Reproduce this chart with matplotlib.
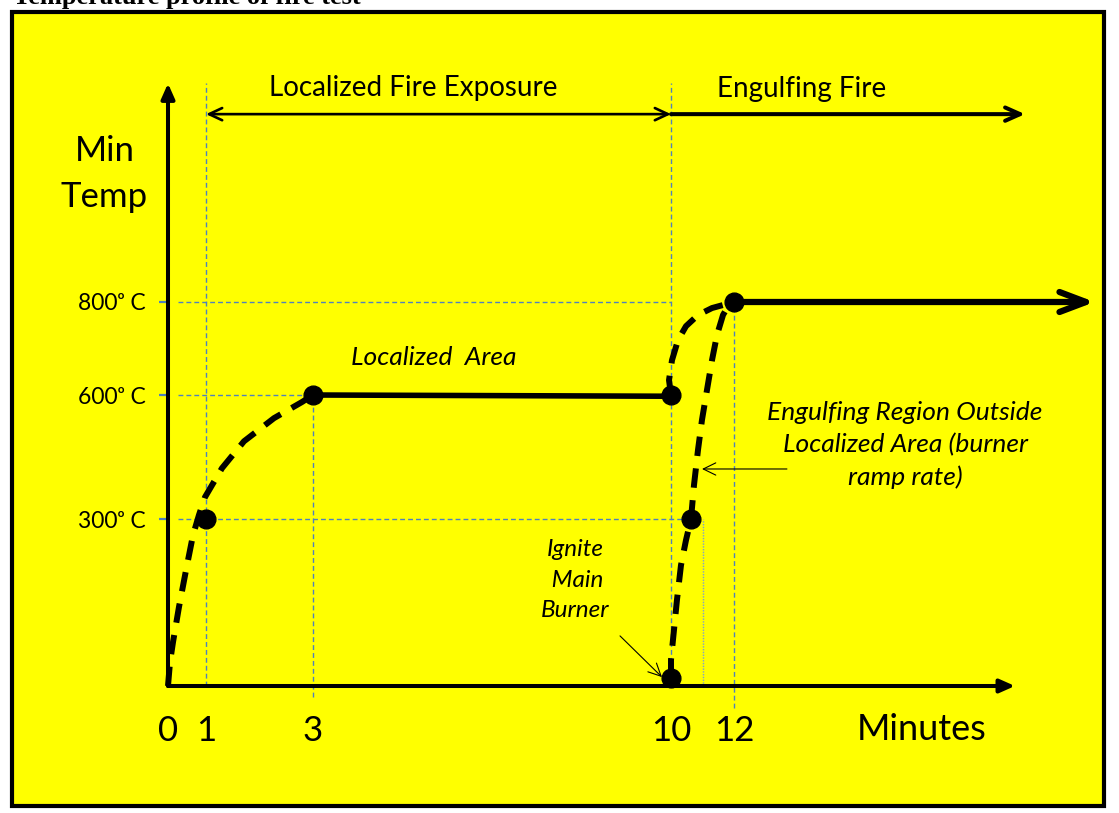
import numpy as np
import matplotlib
matplotlib.use("Agg")
import matplotlib.pyplot as plt
from matplotlib.patches import Rectangle

plt.rcParams['font.family'] = ['Lato', 'DejaVu Sans']
plt.rcParams['lines.scale_dashes'] = False

# ---------------- data ----------------
title = "Temperature profile of fire test"
x_ticks = [0, 1, 3, 10, 12]
x_tick_labels = ["0", "1", "3", "10", "12"]
y_ticks = [300, 600, 800]
y_tick_labels = ["300\u1d52 C", "600\u1d52 C", "800\u1d52 C"]

# localized ramp (dashed), minutes / deg C
ramp_t = [0, 0.053, 0.132, 0.289, 0.474, 0.658, 0.816, 0.974, 1.299, 1.710, 2.271, 2.794, 3.0]
ramp_T = [0, 43, 79, 142, 208, 271, 310, 353, 423, 488, 544, 583, 600]
# localized hold (solid)
hold_t = [3, 10]
hold_T = [600, 597]
# localized area rise to 800 (dashed)
rise_t = [10, 9.961, 10.032, 10.222, 10.476, 10.857, 11.302, 12]
rise_T = [600, 632, 675, 718, 748, 772, 787, 800]
# main burner ramp (dashed)
burner_t = [10, 10, 10.095, 10.190, 10.317, 10.476, 10.635, 10.730, 10.857,
            10.984, 11.143, 11.302, 11.460, 11.651, 11.873, 12]
burner_T = [15, 47, 101, 155, 217, 262, 300, 382, 467, 540, 611, 675, 729,
            772, 798, 800]
# engulfing hold (solid arrow)
engulf_t = [12, 23.45]
engulf_T = [800, 800]
# key points
pts_t = [1, 3, 10, 12, 10, 10.65]
pts_T = [300, 600, 600, 800, 15, 300]
# phases
localized_phase = [1, 10]
engulfing_phase = [10, 21.24]

# ---------------- schematic (non-linear) scales ----------------
X_BRK_MIN = [-10, 0, 1, 3, 10, 12, 40]
X_BRK_U = [-212, 168, 206, 313, 671, 734, 1616]
Y_BRK_T = [-500, 0, 300, 600, 800, 2000]
Y_BRK_U = [-151.3, 127, 294, 418, 511, 1069]

def xf(v): return np.interp(v, X_BRK_MIN, X_BRK_U)
def xi(u): return np.interp(u, X_BRK_U, X_BRK_MIN)
def yf(v): return np.interp(v, Y_BRK_T, Y_BRK_U)
def yi(u): return np.interp(u, Y_BRK_U, Y_BRK_T)

W, H = 1119, 813
fig = plt.figure(figsize=(W / 100, H / 100), dpi=100, facecolor='white')
ax = fig.add_axes([0, 0, 1, 1])
ax.set_xscale('function', functions=(xf, xi))
ax.set_yscale('function', functions=(yf, yi))
ax.set_xlim(float(xi(0)), float(xi(W)))
ax.set_ylim(float(yi(0)), float(yi(H)))
ax.patch.set_visible(False)

# yellow frame
ax.add_patch(Rectangle((12 / W, 1 - 806 / H), (1104 - 12) / W, (806 - 12) / H,
                       transform=ax.transAxes, facecolor='#FFFF00',
                       edgecolor='black', lw=3.0, zorder=0, clip_on=False))

fig.text(13 / W, 1 - 4 / H, title, fontsize=19, fontweight='bold',
         family='Liberation Serif', va='baseline', ha='left')

BLUE = '#4F81BD'
grid_kw = dict(color=BLUE, lw=1.0, dashes=(3.5, 2.2), zorder=2)
# horizontal guides
ax.plot([0.25, 10], [800, 800], **grid_kw)
ax.plot([0.25, 3], [600, 600], **grid_kw)
ax.plot([0.25, 10.65], [300, 300], **grid_kw)
# vertical guides
ax.plot([1, 1], [0, 1270], **grid_kw)
ax.plot([3, 3], [-20, 600], **grid_kw)
ax.plot([10, 10], [0, 1270], **grid_kw)
ax.plot([12, 12], [-40, 800], **grid_kw)
ax.plot([11, 11], [0, 300], color='#7FA0D0', lw=1.0, dashes=(1, 1), zorder=2)

# axes arrows
ax.annotate('', xy=(0, 1270), xytext=(0, 0),
            arrowprops=dict(arrowstyle='-|>,head_length=0.45,head_width=0.2',
                            mutation_scale=20, lw=2.9, color='black',
                            shrinkA=0, shrinkB=0), zorder=3)
ax.annotate('', xy=(20.92, 0), xytext=(0, 0),
            arrowprops=dict(arrowstyle='-|>,head_length=0.45,head_width=0.2',
                            mutation_scale=20, lw=2.9, color='black',
                            shrinkA=0, shrinkB=0), zorder=3)

# ticks & labels
for s in ax.spines.values():
    s.set_visible(False)
ax.spines['left'].set_position(('data', 0))
ax.spines['bottom'].set_position(('data', 0))
ax.set_xticks(x_ticks, x_tick_labels)
ax.set_yticks(y_ticks, y_tick_labels)
ax.minorticks_off()
ax.tick_params(axis='x', length=0, pad=21, labelsize=25)
ax.tick_params(axis='y', direction='out', length=6.5, width=1.6, color=BLUE,
               pad=9.5, labelsize=16.5)

# curves
dash_kw = dict(color='black', lw=4.3, dashes=(14, 9), solid_capstyle='butt',
               dash_capstyle='butt', zorder=4)
ax.plot(ramp_t, ramp_T, **dash_kw)
ax.plot(rise_t, rise_T, **dash_kw)
ax.plot(burner_t, burner_T, **dash_kw)
ax.plot(hold_t, hold_T, color='black', lw=4.0, zorder=4)
ax.annotate('', xy=(engulf_t[1], engulf_T[1]), xytext=(engulf_t[0], engulf_T[0]),
            arrowprops=dict(arrowstyle='->,head_length=0.95,head_width=0.36',
                            mutation_scale=20, lw=4.5, color='black',
                            shrinkA=0, shrinkB=0, capstyle='round',
                            joinstyle='round'), zorder=4)
ax.plot(pts_t, pts_T, 'o', color='black', ms=13.5, zorder=5)

# phase arrows
ax.annotate('', xy=(localized_phase[1], 1204), xytext=(localized_phase[0], 1204),
            arrowprops=dict(arrowstyle='<->,head_length=0.47,head_width=0.22',
                            mutation_scale=20, lw=1.9, color='black',
                            shrinkA=0, shrinkB=0), zorder=3)
ax.annotate('', xy=(engulfing_phase[1], 1204), xytext=(engulfing_phase[0], 1204),
            arrowprops=dict(arrowstyle='->,head_length=0.54,head_width=0.24',
                            mutation_scale=20, lw=2.9, color='black',
                            shrinkA=0, shrinkB=0), zorder=3)
ax.text(4.955, 1243, "Localized Fire Exposure", fontsize=20, ha='center',
        va='baseline')
ax.text(14.16, 1241, "Engulfing Fire", fontsize=20, ha='center', va='baseline')

# axis titles
ax.text(-1.66, 1103, "Min", fontsize=25, ha='center', va='baseline')
ax.text(-1.69, 1004, "Temp", fontsize=25, ha='center', va='baseline')
ax.text(17.97, -97, "Minutes", fontsize=26, ha='center', va='baseline')

# annotations
ax.text(5.37, 680, "Localized  Area", fontsize=19, style='italic',
        ha='center', va='center')
ax.text(17.43, 479, "Engulfing Region Outside\nLocalized Area (burner\nramp rate)",
        fontsize=19, style='italic', ha='center', va='center',
        multialignment='center', linespacing=1.45)
ax.text(8.12, 190, "Ignite\n Main\nBurner", fontsize=17.5, style='italic',
        ha='center', va='center', multialignment='center', linespacing=1.55)
ax.annotate('', xy=(10.984, 421), xytext=(13.68, 421),
            arrowprops=dict(arrowstyle='->,head_length=0.45,head_width=0.22',
                            mutation_scale=20, lw=0.8, color='black',
                            shrinkA=0, shrinkB=0), zorder=6)
ax.annotate('', xy=(9.824, 16), xytext=(9.003, 90),
            arrowprops=dict(arrowstyle='->,head_length=0.45,head_width=0.22',
                            mutation_scale=20, lw=0.8, color='black',
                            shrinkA=0, shrinkB=0), zorder=6)

fig.savefig('out.png', dpi=100, facecolor='white')
